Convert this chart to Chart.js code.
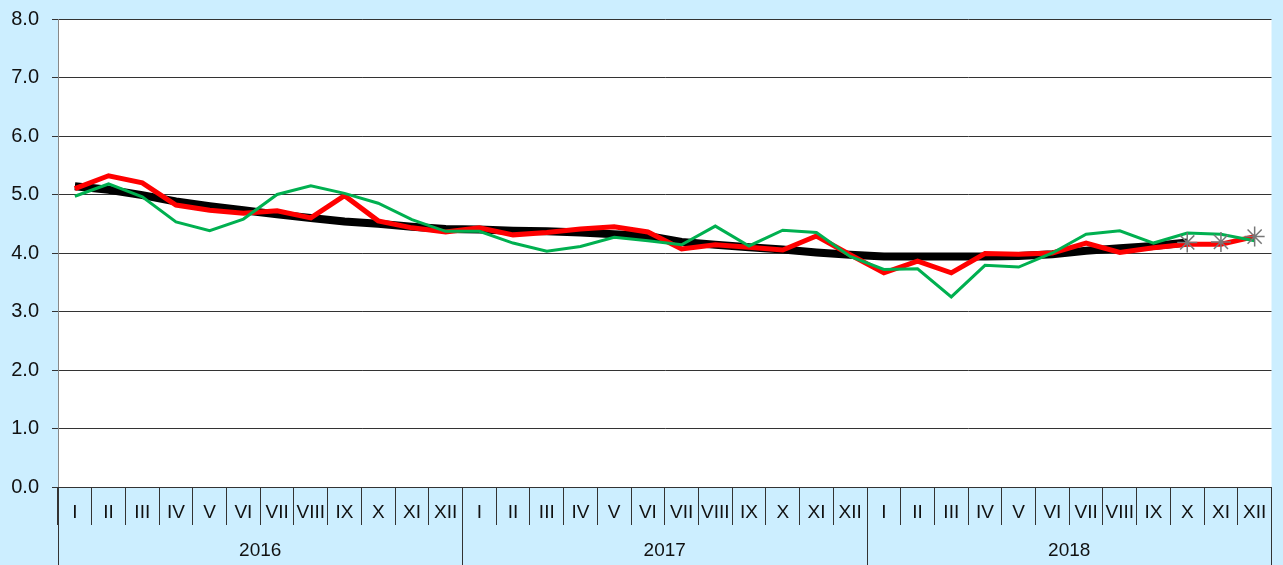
<!DOCTYPE html>
<html>
<head>
<meta charset="utf-8">
<script src="https://cdn.jsdelivr.net/npm/chart.js@4"></script>
<style>
  html, body { margin: 0; padding: 0; background: #cceeff; }
  #wrap { width: 1283px; height: 565px; }
</style>
</head>
<body>
<div id="wrap"><canvas id="chart" width="1283" height="565"></canvas></div>
<script>
const months = ["I", "II", "III", "IV", "V", "VI", "VII", "VIII", "IX", "X", "XI", "XII"];
const years = ["2016", "2017", "2018"];
const labels = years.flatMap(() => months);

const trend = [5.14, 5.08, 4.99, 4.88, 4.80, 4.73, 4.66, 4.60, 4.54, 4.50, 4.45, 4.41,
               4.40, 4.38, 4.37, 4.35, 4.32, 4.29, 4.19, 4.14, 4.10, 4.06, 4.01, 3.97,
               3.94, 3.94, 3.94, 3.94, 3.95, 3.98, 4.04, 4.08, 4.12, 4.18, null, null];
const adjusted = [5.10, 5.32, 5.20, 4.82, 4.73, 4.68, 4.72, 4.60, 4.98, 4.55, 4.43, 4.36,
                  4.43, 4.31, 4.35, 4.41, 4.45, 4.36, 4.07, 4.14, 4.10, 4.05, 4.29, 3.97,
                  3.66, 3.86, 3.66, 3.99, 3.98, 4.00, 4.17, 4.01, 4.09, 4.15, 4.15, 4.28];
const original = [4.97, 5.18, 4.96, 4.53, 4.38, 4.58, 5.00, 5.15, 5.02, 4.85, 4.57, 4.37,
                  4.37, 4.17, 4.03, 4.11, 4.27, 4.21, 4.14, 4.46, 4.12, 4.39, 4.35, 3.94,
                  3.72, 3.73, 3.25, 3.79, 3.76, 4.00, 4.32, 4.38, 4.17, 4.34, 4.32, 4.21];
const forecast = [null, null, null, null, null, null, null, null, null, null, null, null,
                  null, null, null, null, null, null, null, null, null, null, null, null,
                  null, null, null, null, null, null, null, null, null, 4.18, 4.19, 4.28];

const FONT = "'Liberation Sans', Arial, sans-serif";

const yearRow = {
  id: "yearRow",
  afterDraw(chart) {
    const ctx = chart.ctx;
    const x = chart.scales.x;
    const area = chart.chartArea;
    const h = chart.height;
    const step = x.getPixelForValue(1) - x.getPixelForValue(0);
    ctx.save();
    ctx.strokeStyle = "#333";
    ctx.lineWidth = 1;
    ctx.beginPath();
    for (let i = 0; i <= years.length; i++) {
      const px = Math.round(x.getPixelForValue(i * 12) - step / 2) + 0.5;
      ctx.moveTo(px, area.bottom);
      ctx.lineTo(px, h);
    }
    ctx.stroke();
    ctx.fillStyle = "#111";
    ctx.font = "19px " + FONT;
    ctx.textAlign = "center";
    ctx.textBaseline = "middle";
    years.forEach((y, i) => {
      const a = x.getPixelForValue(i * 12) - step / 2;
      const b = x.getPixelForValue(i * 12 + 11) + step / 2;
      ctx.fillText(y, (a + b) / 2, 551);
    });
    ctx.restore();
  }
};

const plotBg = {
  id: "plotBg",
  beforeDraw(chart) {
    const { ctx, chartArea: a } = chart;
    ctx.save();
    ctx.fillStyle = "#ffffff";
    ctx.fillRect(a.left, a.top, a.right - a.left, a.bottom - a.top);
    ctx.restore();
  }
};

new Chart(document.getElementById("chart"), {
  type: "line",
  data: {
    labels: labels,
    datasets: [
      { label: "forecast", data: forecast, showLine: false, pointStyle: "star",
        pointRadius: 10, pointBorderColor: "#777", pointBorderWidth: 1.5, order: 0 },
      { label: "original", data: original, borderColor: "#00b050", borderWidth: 3,
        pointRadius: 0, tension: 0, order: 1 },
      { label: "adjusted", data: adjusted, borderColor: "#ff0000", borderWidth: 5,
        pointRadius: 0, tension: 0, order: 2 },
      { label: "trend", data: trend, borderColor: "#000000", borderWidth: 8,
        pointRadius: 0, tension: 0, order: 3 }
    ]
  },
  options: {
    responsive: false,
    animation: false,
    layout: { padding: { top: 19, right: 6, left: 0, bottom: 0 } },
    plugins: {
      legend: { display: false },
      tooltip: { enabled: false }
    },
    scales: {
      x: {
        offset: true,
        grid: { offset: true, drawOnChartArea: false, color: "#333", tickLength: 38 },
        border: { color: "#333" },
        ticks: { color: "#111", padding: -24, autoSkip: false, maxRotation: 0,
                 font: { size: 19, family: FONT } },
        afterFit(s) { s.height = 78; s.paddingLeft = 0; s.paddingRight = 0; }
      },
      y: {
        min: 0, max: 8,
        grid: { color: "#333", tickLength: 6 },
        border: { color: "#888" },
        ticks: { stepSize: 1, padding: 13, color: "#111",
                 callback: v => v.toFixed(1),
                 font: { size: 20, family: FONT } },
        afterFit(s) { s.width = 58; s.paddingTop = 0; s.paddingBottom = 0; }
      }
    }
  },
  plugins: [plotBg, yearRow]
});
</script>
</body>
</html>
